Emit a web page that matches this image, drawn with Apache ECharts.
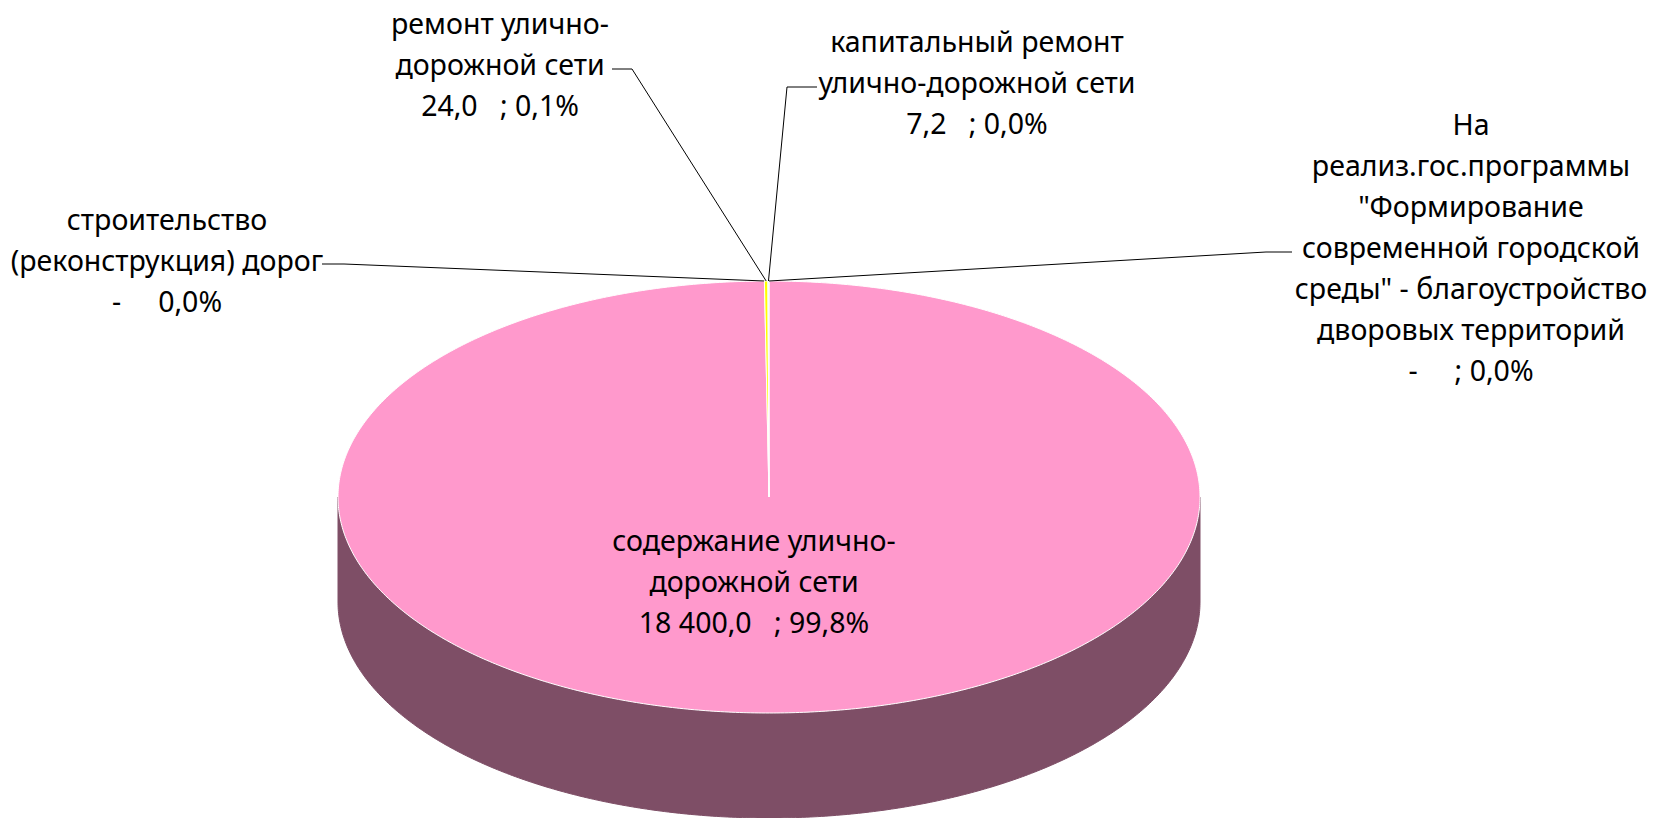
<!DOCTYPE html>
<html lang="ru">
  <head>
    <meta charset="UTF-8" />
    <title>Расходы дорожного фонда</title>
    <style>
      html, body { margin: 0; padding: 0; background: #fff; }
      #main { width: 1658px; height: 818px; }
    </style>
  </head>
  <body>
    <div id="main"></div>
    <script src="https://cdn.jsdelivr.net/npm/echarts@6/dist/echarts.min.js"></script>
    <script>
      // slices go clockwise from 12 o'clock, in this order
      var categories = [
        "содержание улично-\nдорожной сети",
        "строительство\n(реконструкция) дорог",
        "ремонт улично-\nдорожной сети",
        "капитальный ремонт\nулично-дорожной сети",
        'На\nреализ.гос.программы\n"Формирование\nсовременной городской\nсреды" - благоустройство\nдворовых территорий'
      ];
      var values = [18400.0, 0, 24.0, 7.2, 0];
      var separators = ["; ", "", "; ", "; ", "; "];
      var colors = ["#FF99CC", "#9999FF", "#FFFF00", "#CCFFFF", "#993366"];

      // layout
      var cx = 769, cy = 497, rx = 431, ry = 216, depth = 105;
      var sideColor = "#7E4E66";
      var fontSize = 28.5, lineH = 41;
      // [center x, first line center y]
      var labelPos = [[754, 540], [167, 219], [500, 23], [977, 41], [1471, 124]];
      // leader: [start x, y, elbow x]
      var leaders = [null, [322, 264, 344], [612, 69, 632], [817, 87, 787], [1292, 252, 1266]];

      var total = values.reduce(function(a, b) { return a + b; }, 0);
      var acc = 0;
      var slices = values.map(function(v) {
        var a0 = (acc / total) * 360;
        acc += v;
        return [a0, (acc / total) * 360];
      });

      var nb = "\u00a0";
      function fmtVal(v) {
        if (v === 0) return "-" + nb.repeat(5);
        var p = v.toFixed(1).split(".");
        return p[0].replace(/\B(?=(\d{3})+(?!\d))/g, " ") + "," + p[1] + nb.repeat(3);
      }
      function fmtPct(v) {
        return ((v / total) * 100).toFixed(1).replace(".", ",") + "%";
      }

      function pt(deg, dy) {
        var r = (deg * Math.PI) / 180;
        return [cx + rx * Math.sin(r), cy - ry * Math.cos(r) + (dy || 0)];
      }
      function arc(a0, a1, dy) {
        var n = Math.max(2, Math.ceil((a1 - a0) * 2));
        var pts = [];
        for (var k = 0; k <= n; k++) pts.push(pt(a0 + ((a1 - a0) * k) / n, dy));
        return pts;
      }

      function renderItem(params, api) {
        var i = params.dataIndex;
        var a0 = slices[i][0], a1 = slices[i][1];
        var children = [];
        var s0 = Math.max(a0, 90), s1 = Math.min(a1, 270);
        if (s1 > s0) {
          children.push({
            type: "polygon",
            shape: { points: arc(s0, s1, 0).concat(arc(s0, s1, depth).reverse()) },
            style: { fill: sideColor, stroke: sideColor, lineWidth: 1 }
          });
        }
        if (a1 > a0) {
          children.push({
            type: "polygon",
            shape: { points: [[cx, cy]].concat(arc(a0, a1, 0)) },
            style: { fill: colors[i], stroke: "#fff", lineWidth: 1 }
          });
        }
        var ld = leaders[i];
        if (ld) {
          children.push({
            type: "polyline",
            shape: { points: [[ld[0], ld[1]], [ld[2], ld[1]], pt((a0 + a1) / 2, 0)] },
            style: { stroke: "#000", lineWidth: 1, fill: null }
          });
        }
        var text = categories[i] + "\n" + fmtVal(values[i]) + separators[i] + fmtPct(values[i]);
        children.push({
          type: "text",
          style: {
            text: text,
            x: labelPos[i][0],
            y: labelPos[i][1] - lineH / 2,
            align: "center",
            verticalAlign: "top",
            fontSize: fontSize,
            fontFamily: "Noto Sans",
            lineHeight: lineH,
            fill: "#000"
          }
        });
        return { type: "group", children: children };
      }

      var chart = echarts.init(document.getElementById("main"), null, { renderer: "svg" });
      chart.setOption({
        animation: false,
        series: [
          {
            type: "custom",
            coordinateSystem: "none",
            renderItem: renderItem,
            data: values.map(function(v, i) { return [i, v]; })
          }
        ]
      });
    </script>
  </body>
</html>
